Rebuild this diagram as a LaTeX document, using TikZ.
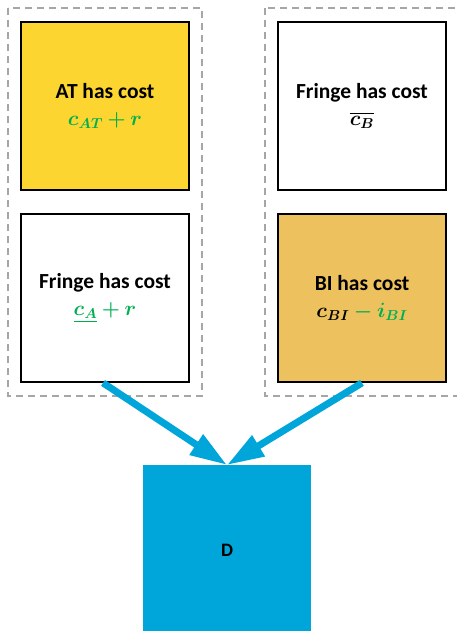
\documentclass[tikz,border=0pt]{standalone}
\usepackage{fontspec}
\setmainfont{Carlito}
\usepackage{amsmath,bm}
\usetikzlibrary{arrows.meta}
\definecolor{atgold}{HTML}{FDD530}
\definecolor{bigold}{HTML}{ECC15E}
\definecolor{dblue}{HTML}{00A6DA}
\definecolor{mgreen}{HTML}{00B050}
\definecolor{dashgray}{HTML}{A6A6A6}
\tikzset{
  x=1pt, y=1pt,
  group/.style={draw=dashgray, line width=1.8pt, dash pattern=on 7pt off 5pt},
  costbox/.style={draw=black, line width=1.8pt, minimum width=168pt, minimum height=168pt,
    inner sep=0pt, align=center, font=\fontsize{21.5}{26}\selectfont\bfseries},
  flow/.style={draw=dblue, line width=7pt, -{Triangle[length=37pt,width=23pt]}}
}
\begin{document}
\begin{tikzpicture}
\useasboundingbox (0,0) rectangle (456,-631);
% dashed groups
\draw[group] (8,-8) rectangle (202,-396);
\draw[group] (265,-8) rectangle (470,-396);
% cost boxes
\node[costbox, fill=atgold] (at) at (105,-106) {AT has cost\\[1pt] $\color{mgreen}\bm{c_{AT}+r}$};
\node[costbox, fill=white] (fa) at (105,-298) {Fringe has cost\\[1pt] $\color{mgreen}\bm{\underline{c_A}+r}$};
\node[costbox, fill=white] (fb) at (362,-106) {Fringe has cost\\[1pt] $\bm{\overline{c_B}}$};
\node[costbox, fill=bigold] (bi) at (362,-298) {BI has cost\\[1pt] $\bm{c_{BI}}\color{mgreen}\bm{-i_{BI}}$};
% target box
\node[draw=none, fill=dblue, minimum width=168pt, minimum height=170pt, inner sep=0pt,
  font=\fontsize{19}{22}\selectfont\bfseries, anchor=north] (d) at (227,-465) {D};
% connectors
\draw[flow] ([xshift=-2pt]fa.south) -- (d.north);
\draw[flow] (bi.south) -- (d.north);
\end{tikzpicture}
\end{document}
